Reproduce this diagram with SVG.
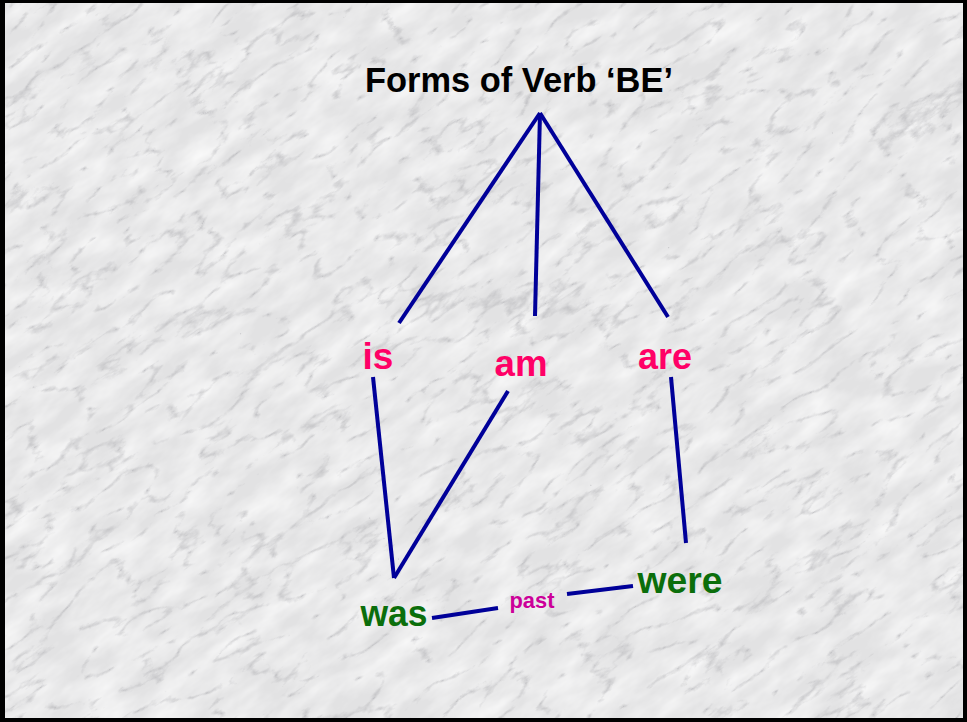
<svg xmlns="http://www.w3.org/2000/svg" width="967" height="722" viewBox="0 0 967 722">
  <style>
    .lbl { font-family: "Liberation Sans", Arial, sans-serif; font-weight: bold; }
    .title { font-size: 35px; fill: #000000; }
    .present { font-size: 37px; fill: #FF0066; }
    .past { font-size: 37px; fill: #0B6E0B; }
    .mid { font-size: 22px; fill: #CC0099; }
    .conn line { stroke: #000099; stroke-width: 4; stroke-linecap: butt; }
  </style>
  <defs>
    <filter id="marble" x="0" y="0" width="100%" height="100%" filterUnits="objectBoundingBox">
      <feTurbulence type="turbulence" baseFrequency="0.015 0.04" numOctaves="5" seed="7" result="t"/>
      <feColorMatrix in="t" type="matrix" values="0 0 0 0 0.42  0 0 0 0 0.42  0 0 0 0 0.44  -3.2 0 0 0 0.62" result="veins"/>
      <feGaussianBlur in="veins" stdDeviation="0.5"/>
    </filter>
    <filter id="cloud" x="0" y="0" width="100%" height="100%" filterUnits="objectBoundingBox">
      <feTurbulence type="fractalNoise" baseFrequency="0.02 0.05" numOctaves="4" seed="2" result="n"/>
      <feColorMatrix in="n" type="matrix" values="0 0 0 0 1  0 0 0 0 1  0 0 0 0 1  1.2 0 0 0 -0.35"/>
    </filter>
    <clipPath id="area"><rect x="5" y="3" width="958" height="715"/></clipPath>
  </defs>

  <rect x="0" y="0" width="967" height="722" fill="#000000"/>
  <g clip-path="url(#area)">
    <rect x="5" y="3" width="958" height="715" fill="#e2e2e3"/>
    <g transform="rotate(-35 483 360)">
      <rect x="-300" y="-300" width="1567" height="1322" fill="#ffffff" filter="url(#cloud)"/>
      <rect x="-300" y="-300" width="1567" height="1322" fill="#ffffff" filter="url(#marble)"/>
    </g>
  </g>

  <g id="connectors" class="conn">
    <line x1="540" y1="113" x2="399" y2="323"/>
    <line x1="540" y1="113" x2="535" y2="316"/>
    <line x1="540" y1="113" x2="668" y2="317"/>
    <line x1="373" y1="377" x2="394" y2="578"/>
    <line x1="394" y1="578" x2="508" y2="391"/>
    <line x1="671" y1="377" x2="686" y2="543"/>
    <line x1="432" y1="618" x2="498" y2="608"/>
    <line x1="567" y1="594" x2="633" y2="586"/>
  </g>

  <g id="title"><text class="lbl title" x="519" y="92" text-anchor="middle" textLength="308" lengthAdjust="spacingAndGlyphs">Forms of Verb ‘BE’</text></g>
  <g id="node-is"><text class="lbl present" x="378" y="369" text-anchor="middle">is</text></g>
  <g id="node-am"><text class="lbl present" x="521" y="376" text-anchor="middle" textLength="53" lengthAdjust="spacingAndGlyphs">am</text></g>
  <g id="node-are"><text class="lbl present" x="665" y="369" text-anchor="middle" textLength="54" lengthAdjust="spacingAndGlyphs">are</text></g>
  <g id="node-was"><text class="lbl past" x="394" y="626" text-anchor="middle" textLength="67" lengthAdjust="spacingAndGlyphs">was</text></g>
  <g id="node-were"><text class="lbl past" x="680" y="593" text-anchor="middle" textLength="85" lengthAdjust="spacingAndGlyphs">were</text></g>
  <g id="node-past"><text class="lbl mid" x="532" y="608" text-anchor="middle" textLength="45" lengthAdjust="spacingAndGlyphs">past</text></g>
</svg>
